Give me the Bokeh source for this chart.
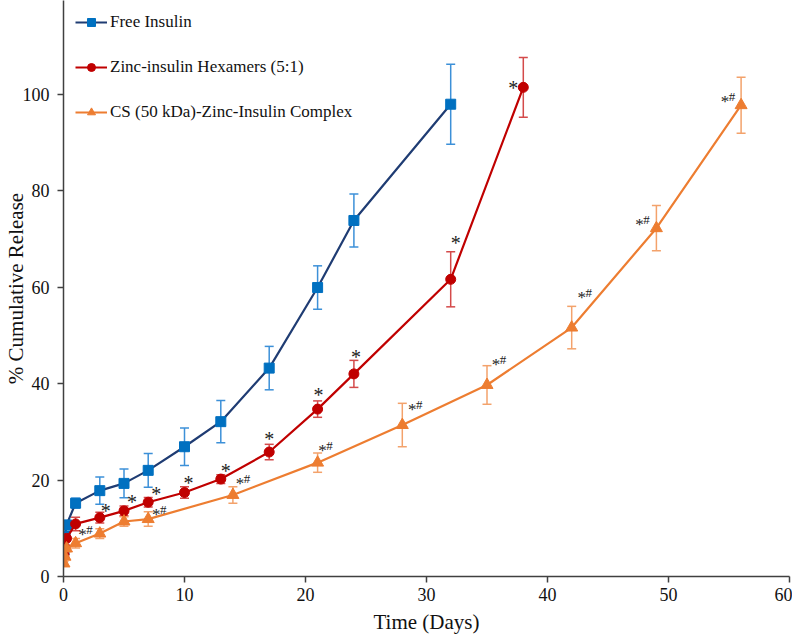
from bokeh.plotting import figure
from bokeh.models import ColumnDataSource, Whisker, TeeHead, Legend, LegendItem, FixedTicker
from bokeh.core.properties import value
from bokeh.embed import file_html
from bokeh.resources import INLINE

# ---- data ----
free_t = [0.04, 0.125, 0.25, 1, 3, 5, 7, 10, 13, 17, 21, 24, 32]
free_y = [5.5, 8.4, 10.7, 15.2, 17.8, 19.3, 22.0, 26.9, 32.1, 43.2, 59.9, 73.8, 97.9]
free_e = [0.5, 0.6, 0.8, 1.0, 2.8, 3.0, 3.5, 3.9, 4.4, 4.5, 4.5, 5.5, 8.3]

zn_t = [0.04, 0.125, 0.25, 1, 3, 5, 7, 10, 13, 17, 21, 24, 32, 38]
zn_y = [4.5, 6.0, 7.9, 10.9, 12.2, 13.6, 15.4, 17.4, 20.2, 25.8, 34.7, 42.0, 61.6, 101.4]
zn_e = [0.4, 0.5, 0.6, 1.4, 1.1, 1.0, 1.0, 1.2, 0.9, 1.6, 1.7, 2.8, 5.7, 6.2]

cs_t = [0.04, 0.125, 0.25, 1, 3, 5, 7, 14, 21, 28, 35, 42, 49, 56]
cs_y = [2.7, 4.1, 5.8, 6.9, 8.9, 11.4, 11.9, 16.9, 23.6, 31.4, 39.7, 51.6, 72.2, 97.7]
cs_e = [0.4, 0.5, 0.6, 1.0, 1.0, 1.0, 1.5, 1.7, 2.0, 4.5, 4.0, 4.4, 4.7, 5.8]

# significance marks: "*" for zinc-insulin, "*#" for CS complex
star_t = [3, 5, 7, 10, 13, 17, 21, 24, 32, 38]
star_y = [12.2, 13.6, 15.4, 17.4, 20.2, 25.8, 34.7, 42.0, 61.6, 101.4]
starhash_t = [1, 7, 14, 21, 28, 35, 42, 49, 56]
starhash_y = [6.9, 11.9, 16.9, 23.6, 31.4, 39.7, 51.6, 72.2, 97.7]

x_ticks = [0, 10, 20, 30, 40, 50, 60]
y_ticks = [0, 20, 40, 60, 80, 100]

labels = ["Free Insulin", "Zinc-insulin Hexamers (5:1)", "CS (50 kDa)-Zinc-Insulin Complex"]

# ---- styles / placements ----
star_dx = [6, 8, 8, 4, 5, 0, 1, 2, 5, -10]
star_dy = [-7, -9, -8, -10, -8, -13, -14, -17, -36, 1]
sh_dx = [10, 11, 10, 8, 13, 12, 13, -14, -13]
sh_dy = [-12, -8, -14, -15, -19, -23, -33, -7, -7]

FONT = "Liberation Serif"

p = figure(width=792, height=636, output_backend="svg", toolbar_location=None,
           x_range=(0, 60), y_range=(0, 119.4),
           min_border_left=50, min_border_right=3, min_border_top=0, min_border_bottom=50)
p.outline_line_color = None
p.xgrid.visible = False
p.ygrid.visible = False
p.background_fill_color = "white"
p.border_fill_color = "white"

def mk_src(t, y, e):
    return ColumnDataSource(dict(t=t, y=y, lo=[a - b for a, b in zip(y, e)], hi=[a + b for a, b in zip(y, e)]))

series = [
    (mk_src(free_t, free_y, free_e), "#1F3C73", "#0070C0", "#3C90D8", "square", 10),
    (mk_src(zn_t, zn_y, zn_e), "#C00000", "#C00000", "#D44A4A", "circle", 10),
    (mk_src(cs_t, cs_y, cs_e), "#ED7D31", "#ED7D31", "#F3A26B", "triangle", 12),
]

items = []
for (src, lc, mc, ec, mk, sz), lab in zip(series, labels):
    w = Whisker(source=src, base="t", lower="lo", upper="hi", line_color=ec, line_width=1.5,
                upper_head=TeeHead(size=9, line_color=ec, line_width=1.5),
                lower_head=TeeHead(size=9, line_color=ec, line_width=1.5))
    p.add_layout(w)
    ln = p.line("t", "y", source=src, line_color=lc, line_width=2.2)
    sc = p.scatter("t", "y", source=src, marker=mk, size=sz, fill_color=mc, line_color=mc)
    items.append(LegendItem(label=lab, renderers=[ln, sc]))

# significance annotations
star_src = ColumnDataSource(dict(x=star_t, y=star_y, dx=star_dx, dy=star_dy, txt=["*"] * len(star_t)))
p.text("x", "y", text="txt", source=star_src, x_offset="dx", y_offset="dy",
       text_font=value(FONT), text_font_size="20px", text_color="#222222",
       text_align="center", text_baseline="middle")

sh_src = ColumnDataSource(dict(x=starhash_t, y=starhash_y,
                               dx1=[d - 3 for d in sh_dx], dy1=[d + 3 for d in sh_dy],
                               dx2=[d + 4 for d in sh_dx], dy2=[d - 2 for d in sh_dy],
                               t1=["*"] * len(starhash_t), t2=["#"] * len(starhash_t)))
p.text("x", "y", text="t1", source=sh_src, x_offset="dx1", y_offset="dy1",
       text_font=value(FONT), text_font_size="17px", text_color="#222222",
       text_align="center", text_baseline="middle")
p.text("x", "y", text="t2", source=sh_src, x_offset="dx2", y_offset="dy2",
       text_font=value(FONT), text_font_size="13px", text_color="#222222",
       text_align="center", text_baseline="middle")

legend = Legend(items=items, location="top_left", orientation="vertical",
                label_text_font=FONT, label_text_font_size="17px", label_text_color="#111111",
                glyph_width=32, glyph_height=20, label_height=20, label_standoff=3,
                spacing=25, padding=2, margin=12, background_fill_alpha=0, border_line_color=None)
p.add_layout(legend)

for ax in (p.xaxis[0], p.yaxis[0]):
    ax.axis_line_color = "#404040"
    ax.axis_line_width = 1.5
    ax.major_tick_line_color = "#404040"
    ax.major_tick_line_width = 1.5
    ax.major_tick_out = 6
    ax.major_tick_in = 0
    ax.minor_tick_line_color = None
    ax.major_label_text_font = FONT
    ax.major_label_text_font_size = "18px"
    ax.major_label_text_color = "#111111"
    ax.axis_label_text_font = FONT
    ax.axis_label_text_font_size = "21px"
    ax.axis_label_text_font_style = "normal"
    ax.axis_label_text_color = "#111111"

p.xaxis.ticker = FixedTicker(ticks=x_ticks)
p.yaxis.ticker = FixedTicker(ticks=y_ticks)
p.xaxis.axis_label = "Time (Days)"
p.yaxis.axis_label = "% Cumulative Release"
p.xaxis.major_label_standoff = 5
p.xaxis.axis_label_standoff = 6
p.yaxis.major_label_standoff = 8
p.yaxis.axis_label_standoff = -8

open("out.html", "w").write(file_html(p, INLINE))
